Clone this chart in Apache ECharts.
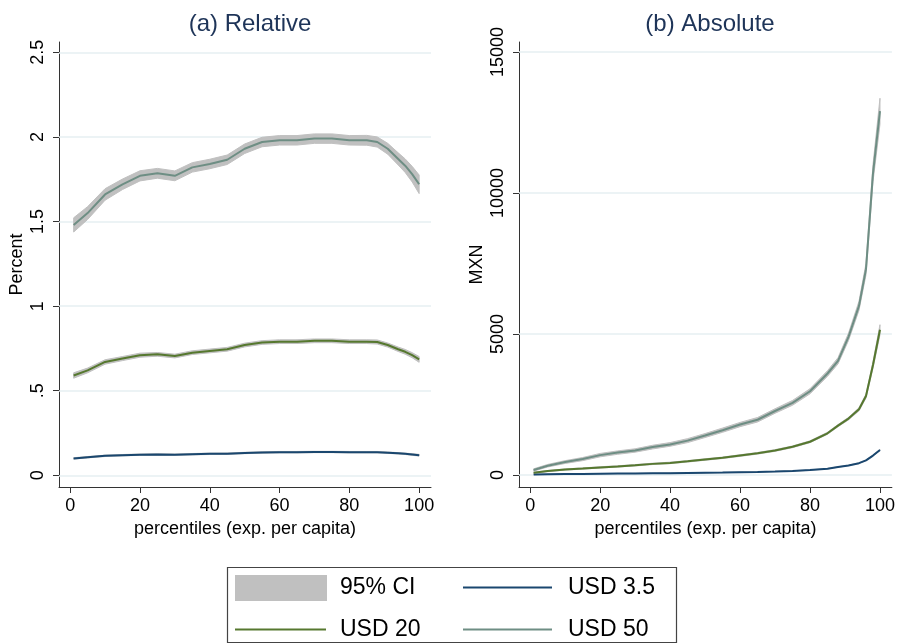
<!DOCTYPE html>
<html>
<head>
<meta charset="utf-8">
<script src="https://cdn.jsdelivr.net/npm/echarts@6/dist/echarts.min.js"></script>
<style>
  html, body { margin: 0; padding: 0; background: #fff; }
  #main { width: 898px; height: 644px; }
</style>
</head>
<body>
<div id="main"></div>
<script>
var myChart = echarts.init(document.getElementById('main'));

// percentiles where the curves are read
var pct = [1, 5, 10, 15, 20, 25, 30, 35, 40, 45, 50, 55, 60, 65, 70, 75, 80, 85, 88, 91, 94, 96, 98, 100];

// (a) Relative, percent
var rel35 = [0.100, 0.107, 0.115, 0.119, 0.122, 0.123, 0.122, 0.125, 0.127, 0.128, 0.132, 0.135, 0.137, 0.137, 0.138, 0.138, 0.137, 0.137, 0.137, 0.134, 0.130, 0.127, 0.123, 0.119];
var rel20 = [0.59, 0.62, 0.67, 0.69, 0.71, 0.715, 0.705, 0.725, 0.735, 0.745, 0.77, 0.785, 0.79, 0.79, 0.795, 0.795, 0.79, 0.79, 0.788, 0.77, 0.745, 0.73, 0.71, 0.685];
var rel50 = [1.48, 1.55, 1.66, 1.72, 1.77, 1.785, 1.77, 1.82, 1.84, 1.865, 1.93, 1.97, 1.98, 1.98, 1.99, 1.99, 1.98, 1.98, 1.97, 1.93, 1.87, 1.83, 1.78, 1.72];
// half width of the 95% CI
var relCi35 = [0.004, 0.004, 0.004, 0.004, 0.004, 0.004, 0.004, 0.004, 0.004, 0.004, 0.004, 0.004, 0.004, 0.004, 0.004, 0.004, 0.004, 0.004, 0.004, 0.004, 0.004, 0.004, 0.005, 0.005];
var relCi20 = [0.016, 0.014, 0.013, 0.012, 0.012, 0.011, 0.011, 0.011, 0.011, 0.011, 0.011, 0.011, 0.011, 0.011, 0.011, 0.011, 0.011, 0.011, 0.012, 0.012, 0.013, 0.014, 0.015, 0.017];
var relCi50 = [0.042, 0.038, 0.034, 0.031, 0.030, 0.029, 0.029, 0.028, 0.028, 0.028, 0.028, 0.028, 0.028, 0.028, 0.028, 0.028, 0.028, 0.029, 0.030, 0.032, 0.036, 0.040, 0.046, 0.055];

// (b) Absolute, MXN
var abs35 = [15, 25, 33, 40, 45, 50, 55, 60, 65, 72, 80, 88, 100, 110, 125, 145, 175, 225, 285, 340, 420, 520, 690, 890];
var abs20 = [80, 140, 195, 230, 270, 305, 345, 395, 430, 485, 550, 610, 690, 770, 870, 1000, 1180, 1480, 1750, 2000, 2330, 2800, 3900, 5150];
var abs50 = [180, 330, 460, 565, 705, 795, 870, 990, 1085, 1220, 1400, 1590, 1790, 1960, 2270, 2560, 2970, 3600, 4050, 4900, 6000, 7300, 10700, 12900];
var absCi35 = [4, 4, 4, 4, 4, 4, 4, 4, 4, 5, 5, 5, 5, 5, 5, 6, 6, 7, 8, 9, 10, 12, 15, 20];
var absCi20 = [20, 20, 20, 22, 22, 22, 24, 24, 25, 25, 26, 26, 28, 28, 30, 30, 32, 36, 40, 45, 55, 70, 110, 180];
var absCi50 = [40, 45, 50, 55, 60, 60, 60, 65, 65, 70, 70, 75, 75, 80, 80, 85, 90, 100, 110, 130, 160, 200, 300, 460];

// ticks
var xTicks = [0, 20, 40, 60, 80, 100];
var relTicks = [0, 0.5, 1, 1.5, 2, 2.5];
var relTickLabels = ['0', '.5', '1', '1.5', '2', '2.5'];
var absTicks = [0, 5000, 10000, 15000];

var cNavy = '#1a476f', cGreen = '#56782f', cTeal = '#6e8e84', cBand = '#c0c0c0';
var font = 'Liberation Sans, Arial, sans-serif';
var gridColor = '#e6eff2';

// CI band: one polygon, upper edge forward then lower edge back
function band(idx, ys, ci) {
  var rows = pct.map(function (x, i) { return [x, ys[i] - ci[i], ys[i] + ci[i]]; });
  return {
    type: 'custom', name: '95% CI', coordinateSystem: 'cartesian2d',
    xAxisIndex: idx, yAxisIndex: idx, silent: true, z: 2,
    itemStyle: {color: cBand},
    encode: {x: 0, y: [1, 2]},
    data: rows,
    renderItem: function (params, api) {
      if (params.dataIndex !== 0) return;
      var pts = [];
      rows.forEach(function (r) { pts.push(api.coord([r[0], r[2]])); });
      for (var i = rows.length - 1; i >= 0; i--) pts.push(api.coord([rows[i][0], rows[i][1]]));
      return {type: 'polygon', shape: {points: pts}, style: {fill: cBand, stroke: cBand, lineWidth: 1}};
    }
  };
}

function line(idx, ys, name, color) {
  return {
    type: 'line', name: name, xAxisIndex: idx, yAxisIndex: idx,
    symbol: 'none', silent: true, z: 3,
    itemStyle: {color: color}, lineStyle: {color: color, width: 2},
    data: pct.map(function (x, i) { return [x, ys[i]]; })
  };
}

function gridLines(idx, ticks) {
  return {
    type: 'line', name: 'grid' + idx, xAxisIndex: idx, yAxisIndex: idx, data: [], z: 1,
    markLine: {
      silent: true, symbol: ['none', 'none'], z: 1, animation: false,
      label: {show: false},
      lineStyle: {color: gridColor, width: 1.5, type: 'solid'},
      data: ticks.map(function (v) { return {yAxis: v}; })
    }
  };
}

function xAx(idx) {
  return {
    type: 'value', gridIndex: idx, min: -3.2, max: 103.4,
    name: 'percentiles (exp. per capita)', nameLocation: 'middle', nameGap: 29,
    nameTextStyle: {fontSize: 18, color: '#000', fontFamily: font},
    axisLine: {onZero: false, lineStyle: {color: '#333', width: 1}},
    axisTick: {customValues: xTicks, length: 6, lineStyle: {color: '#333'}},
    axisLabel: {customValues: xTicks, fontSize: 18, color: '#000', fontFamily: font, margin: 10},
    splitLine: {show: false}
  };
}

function yAx(idx, min, max, name, ticks, fmt) {
  return {
    type: 'value', gridIndex: idx, min: min, max: max,
    name: name, nameLocation: 'middle', nameGap: 33,
    nameTextStyle: {fontSize: 18, color: '#000', fontFamily: font},
    axisLine: {show: true, onZero: false, lineStyle: {color: '#333', width: 1}},
    axisTick: {show: true, customValues: ticks, length: 6, lineStyle: {color: '#333'}},
    axisLabel: {customValues: ticks, rotate: 90, fontSize: 18, color: '#000', fontFamily: font, margin: 12, formatter: fmt},
    splitLine: {show: false}
  };
}

function legendItem(left, top, name, w, h, color, pad) {
  return {
    orient: 'horizontal', left: left, top: top, padding: 0,
    itemWidth: w, itemHeight: h, selectedMode: false,
    textStyle: {fontSize: 23, color: '#000', fontFamily: font, padding: [0, 0, 0, pad]},
    data: [{name: name, icon: 'rect', itemStyle: {color: color, borderWidth: 0}, lineStyle: {width: 0}}]
  };
}

var option = {
  animation: false,
  backgroundColor: '#fff',
  title: [
    {text: '(a) Relative', left: 245, top: 7, textAlign: 'center',
     textStyle: {fontSize: 24, fontWeight: 'normal', color: '#1e3458', fontFamily: font}},
    {text: '(b) Absolute', left: 705, top: 7, textAlign: 'center',
     textStyle: {fontSize: 24, fontWeight: 'normal', color: '#1e3458', fontFamily: font}}
  ],
  grid: [
    {left: 59, top: 42, width: 372, height: 445},
    {left: 519, top: 42, width: 373, height: 445}
  ],
  xAxis: [xAx(0), xAx(1)],
  yAxis: [
    yAx(0, -0.069, 2.561, 'Percent', relTicks, function (v) {
      var k = relTicks.indexOf(v); return k >= 0 ? relTickLabels[k] : '';
    }),
    yAx(1, -425, 15355, 'MXN', absTicks, function (v) { return String(v); })
  ],
  legend: [
    legendItem(235, 575, '95% CI', 92, 26, cBand, 8),
    legendItem(235, 618, 'USD 20', 91, 2, cGreen, 9),
    legendItem(463, 576, 'USD 3.5', 89, 2, cNavy, 11),
    legendItem(463, 618, 'USD 50', 89, 2, cTeal, 11)
  ],
  graphic: [{
    type: 'rect', left: 225, top: 565, silent: true,
    shape: {width: 449, height: 75},
    style: {fill: 'none', stroke: '#444', lineWidth: 1.2}
  }],
  series: [].concat(
    gridLines(0, relTicks),
    band(0, rel35, relCi35), band(0, rel20, relCi20), band(0, rel50, relCi50),
    line(0, rel35, 'USD 3.5', cNavy), line(0, rel20, 'USD 20', cGreen), line(0, rel50, 'USD 50', cTeal),
    gridLines(1, absTicks),
    band(1, abs35, absCi35), band(1, abs20, absCi20), band(1, abs50, absCi50),
    line(1, abs35, 'USD 3.5', cNavy), line(1, abs20, 'USD 20', cGreen), line(1, abs50, 'USD 50', cTeal)
  )
};

myChart.setOption(option);
</script>
</body>
</html>
